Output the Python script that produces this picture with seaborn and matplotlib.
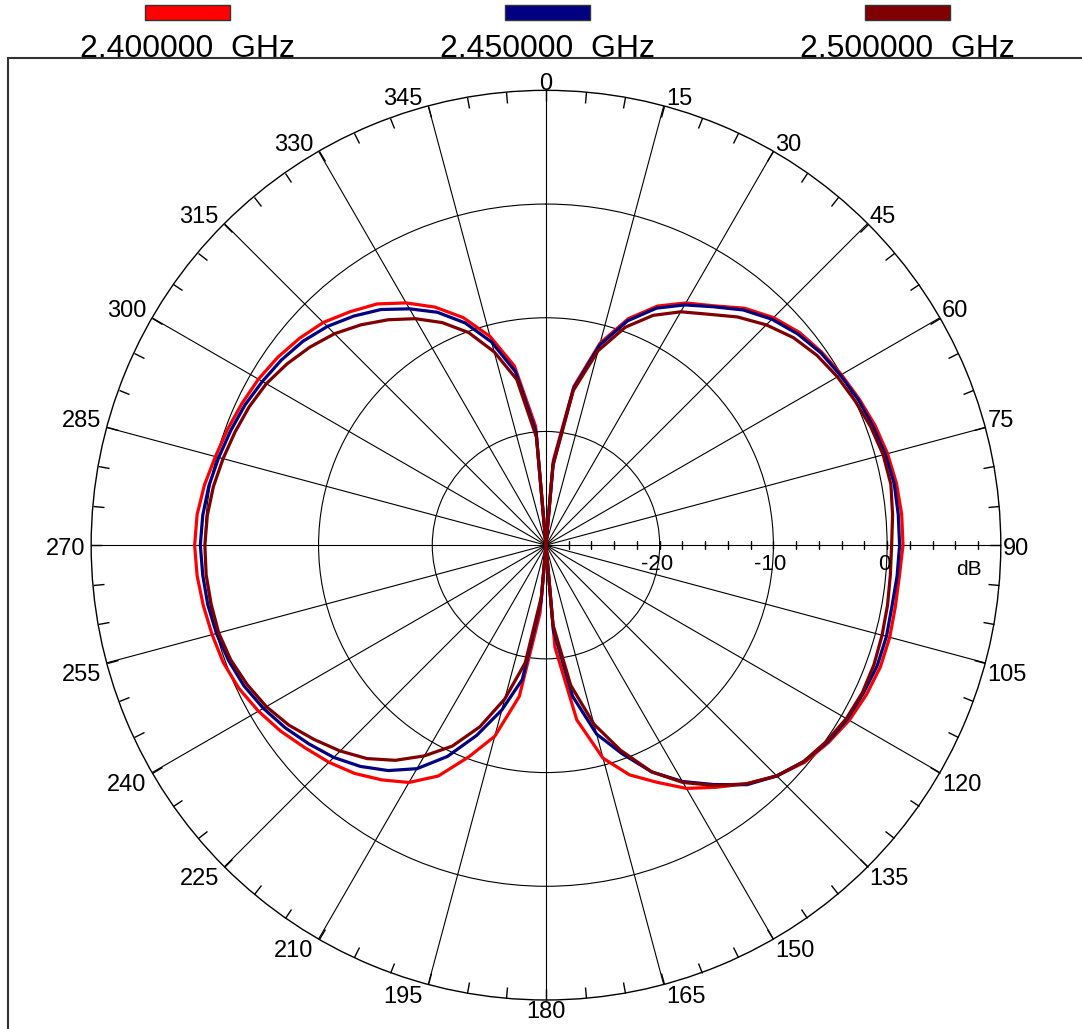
import matplotlib

matplotlib.use("Agg")
import matplotlib.pyplot as plt
import numpy as np
import pandas as pd
import seaborn as sns
from matplotlib.patches import Rectangle


ANGLES_DEG = list(range(0, 360, 5))

# gain in dB, every 5 degrees
GAIN_2400 = [
    -30, -22.5, -15.8, -11.6, -8.8, -6.8, -5.4, -4.3, -2.8, -1.7, -0.9, -0.4,
    0.0, 0.4, 0.8, 1.1, 1.3, 1.4, 1.4, 1.2, 1.2, 1.3, 1.3, 1.1,
    0.8, 0.3, -0.3, -1.3, -2.6, -4.0, -5.3, -7.0, -8.5, -10.6, -14.4, -21.0,
    -30, -24.0, -16.5, -12.6, -10.2, -7.6, -5.9, -4.8, -3.8, -3.0, -2.3, -1.5,
    -0.8, -0.2, 0.2, 0.4, 0.6, 0.8, 0.9, 0.8, 0.5, 0.1, -0.2, -0.5,
    -0.8, -1.2, -1.7, -2.3, -3.2, -4.1, -5.4, -6.9, -8.7, -11.0, -14.0, -19.5,
]
GAIN_2450 = [
    -30, -22.8, -16.0, -11.8, -9.0, -7.0, -5.6, -4.4, -3.0, -1.9, -1.1, -0.5,
    -0.1, 0.3, 0.6, 0.9, 1.1, 1.1, 1.1, 1.0, 0.9, 1.0, 1.0, 0.8,
    0.6, 0.2, -0.4, -1.3, -2.5, -4.3, -6.0, -8.0, -10.5, -12.8, -16.5, -22.5,
    -30, -25.0, -18.0, -15.0, -12.2, -9.5, -7.3, -5.8, -4.6, -3.6, -2.8, -2.0,
    -1.3, -0.7, -0.3, 0.0, 0.2, 0.3, 0.4, 0.3, 0.1, -0.2, -0.5, -0.8,
    -1.2, -1.6, -2.1, -2.8, -3.7, -4.7, -6.0, -7.4, -9.2, -11.5, -14.5, -20.0,
]
GAIN_2500 = [
    -30, -23.0, -16.2, -12.3, -9.6, -7.7, -6.3, -5.2, -3.8, -2.6, -1.6, -0.9,
    -0.4, 0.0, 0.4, 0.7, 0.8, 0.6, 0.4, 0.4, 0.5, 0.6, 0.7, 0.7,
    0.5, 0.1, -0.4, -1.3, -2.6, -4.2, -5.9, -8.0, -10.8, -13.7, -17.5, -23.0,
    -30, -25.5, -19.5, -16.0, -13.0, -10.5, -8.6, -6.9, -5.5, -4.4, -3.4, -2.4,
    -1.6, -1.0, -0.5, -0.2, -0.1, 0.0, 0.0, -0.1, -0.3, -0.6, -0.9, -1.2,
    -1.6, -2.2, -2.9, -3.7, -4.7, -5.8, -7.0, -8.4, -10.1, -12.4, -15.2, -20.5,
]

FREQ_LABELS = ["2.400000  GHz", "2.450000  GHz", "2.500000  GHz"]
COLORS = ["#ff0000", "#000080", "#800000"]

THETA_TICKS = list(range(0, 360, 15))
THETA_MINOR = list(range(0, 360, 5))
R_GRID = [-20, -10, 0]
R_SMALL_TICKS = list(range(-28, 10, 2))
R_MIN, R_MAX = -30, 10


def build_frame() -> pd.DataFrame:
    rows = []
    for label, gains in zip(FREQ_LABELS, [GAIN_2400, GAIN_2450, GAIN_2500]):
        # close the loop back at 360 deg
        angles = ANGLES_DEG + [360]
        values = gains + [gains[0]]
        for a, g in zip(angles, values):
            rows.append({"theta": np.deg2rad(a), "gain": g, "freq": label})
    return pd.DataFrame(rows)


def label_style(t: int) -> tuple[str, str, float, float]:
    """Alignment and offset (points) for an angle label at t degrees."""
    s, c = np.sin(np.deg2rad(t)), np.cos(np.deg2rad(t))
    if s > 0.02:
        ha, dx = "left", 1.5
    elif s < -0.02:
        ha, dx = "right", -4.0
    else:
        ha, dx = "center", 0.0
    if c > 0.02:
        va, dy = "baseline", 0.5
    elif c < -0.02:
        va, dy = "top", -1.0
    else:
        va, dy = "center", -2.5
    return ha, va, dx, dy


def main() -> None:
    sns.set_theme(style="white")
    plt.rcParams["font.family"] = ["Liberation Sans", "DejaVu Sans"]
    plt.rcParams["text.color"] = "black"
    plt.rcParams["xtick.color"] = "black"
    plt.rcParams["ytick.color"] = "black"

    df = build_frame()

    fig = plt.figure(figsize=(10.82, 10.29), dpi=100)
    ax = fig.add_axes([0.0841, 0.0282, 0.841, 0.884], projection="polar")
    ax.set_theta_zero_location("N")
    ax.set_theta_direction(-1)

    sns.lineplot(
        data=df,
        x="theta",
        y="gain",
        hue="freq",
        hue_order=FREQ_LABELS,
        palette=COLORS,
        sort=False,
        estimator=None,
        linewidth=2.3,
        legend=False,
        ax=ax,
    )
    ax.set_xlabel("")
    ax.set_ylabel("")

    ax.set_ylim(R_MIN, R_MAX)
    ax.set_yticks(R_GRID)
    ax.set_yticklabels([])
    ax.tick_params(axis="y", length=0)

    ax.set_xticks(np.deg2rad(THETA_TICKS))
    ax.set_xticklabels([])
    ax.set_xticks(np.deg2rad(THETA_MINOR), minor=True)
    ax.tick_params(axis="x", which="both", bottom=False, top=True,
                   direction="in", length=8, width=1, color="black")

    ax.grid(True, color="black", linewidth=0.8)
    ax.spines["polar"].set_color("black")
    ax.spines["polar"].set_linewidth(1.0)

    # angle labels hugging the outer circle
    for t in THETA_TICKS:
        ha, va, dx, dy = label_style(t)
        ax.annotate(
            str(t),
            xy=(np.deg2rad(t), R_MAX),
            xytext=(dx, dy),
            textcoords="offset points",
            ha=ha,
            va=va,
            fontsize=17,
            annotation_clip=False,
        )

    # small dB ticks along the 90 deg spoke
    ax.plot(
        np.full(len(R_SMALL_TICKS), np.pi / 2),
        R_SMALL_TICKS,
        ls="none",
        marker="|",
        ms=6,
        mew=1,
        color="black",
    )
    for r in R_GRID:
        ax.annotate(
            str(r),
            xy=(np.pi / 2, r),
            xytext=(-2, -6.5),
            textcoords="offset points",
            ha="center",
            va="top",
            fontsize=16,
        )
    ax.annotate(
        "dB",
        xy=(np.pi / 2, 7.2),
        xytext=(0, -11),
        textcoords="offset points",
        ha="center",
        va="top",
        fontsize=15,
    )

    # outer frame
    fig.add_artist(
        Rectangle(
            (0.0074, -0.2),
            1.2,
            0.9436 + 0.2,
            transform=fig.transFigure,
            fill=False,
            edgecolor="#333333",
            linewidth=1.5,
        )
    )

    # legend row on top
    for i, (label, color) in enumerate(zip(FREQ_LABELS, COLORS)):
        xc = (187 + 360 * i) / 1082
        fig.add_artist(
            Rectangle(
                (xc - 42 / 1082, 1 - 20 / 1029),
                85 / 1082,
                15 / 1029,
                transform=fig.transFigure,
                facecolor=color,
                edgecolor="#333333",
                linewidth=1.0,
            )
        )
        fig.text(xc, 1 - 57 / 1029, label, ha="center", va="baseline", fontsize=23)

    fig.savefig("out.png", dpi=100)
    plt.close(fig)


if __name__ == "__main__":
    main()
